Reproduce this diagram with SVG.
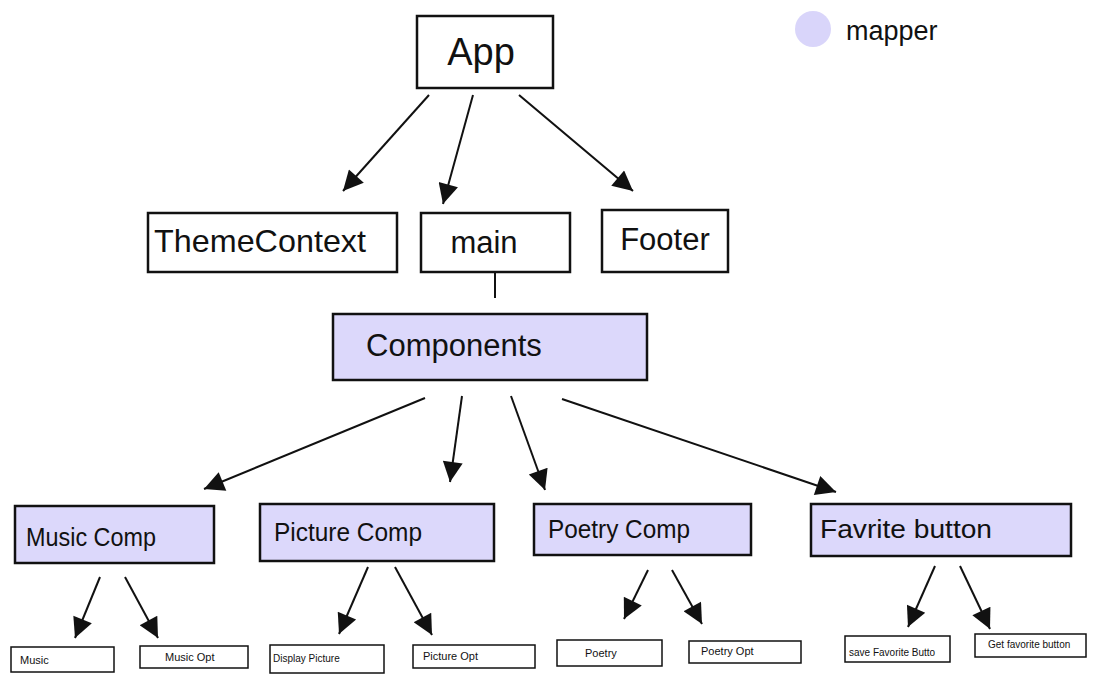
<svg xmlns="http://www.w3.org/2000/svg" width="1102" height="680" viewBox="0 0 1102 680">
<style>
.box{fill:#ffffff;stroke:#111;stroke-width:2.5}
.mbox{fill:#dcd8fb;stroke:#111;stroke-width:2.5}
.leaf{fill:#ffffff;stroke:#111;stroke-width:1.5}
.t{font-family:"Liberation Sans",Arial,sans-serif;fill:#111}
.big{font-size:38px}
.mid{font-size:31px}
.cmp{font-size:25px}
.sm{font-size:11px}
.conn line{stroke:#111;stroke-width:2}
</style>
<defs>
<marker id="ah" viewBox="0 0 10 10" refX="10" refY="5" markerWidth="24" markerHeight="20" markerUnits="userSpaceOnUse" orient="auto">
<path d="M0,0 L10,5 L0,10 z" fill="#111"/>
</marker>
</defs>
<rect width="1102" height="680" fill="#ffffff"/>
<g id="legend">
<circle cx="813" cy="29" r="18" fill="#d9d5fa"/>
<text class="t" x="846" y="40" font-size="27">mapper</text>
</g>
<g id="connectors" class="conn">
<line x1="429" y1="95" x2="343" y2="191" marker-end="url(#ah)"/>
<line x1="473" y1="95" x2="443" y2="204" marker-end="url(#ah)"/>
<line x1="519" y1="95" x2="633" y2="191" marker-end="url(#ah)"/>
<line x1="495" y1="272" x2="495" y2="298"/>
<line x1="425" y1="398" x2="204" y2="489" marker-end="url(#ah)"/>
<line x1="462" y1="396" x2="450" y2="482" marker-end="url(#ah)"/>
<line x1="511" y1="396" x2="545" y2="490" marker-end="url(#ah)"/>
<line x1="562" y1="399" x2="836" y2="492" marker-end="url(#ah)"/>
<line x1="100" y1="577" x2="75" y2="638" marker-end="url(#ah)"/>
<line x1="125" y1="577" x2="158" y2="638" marker-end="url(#ah)"/>
<line x1="368" y1="567" x2="339" y2="634" marker-end="url(#ah)"/>
<line x1="395" y1="567" x2="432" y2="635" marker-end="url(#ah)"/>
<line x1="648" y1="570" x2="624" y2="619" marker-end="url(#ah)"/>
<line x1="672" y1="570" x2="702" y2="624" marker-end="url(#ah)"/>
<line x1="935" y1="566" x2="908" y2="627" marker-end="url(#ah)"/>
<line x1="960" y1="566" x2="990" y2="629" marker-end="url(#ah)"/>
</g>
<g id="app"><rect class="box" x="417" y="16" width="136" height="72"/><text class="t big" x="481" y="65" text-anchor="middle">App</text></g>
<g id="themecontext"><rect class="box" x="148" y="213" width="249" height="59"/><text class="t" font-size="32" x="154" y="252" textLength="212" lengthAdjust="spacingAndGlyphs">ThemeContext</text></g>
<g id="main"><rect class="box" x="421" y="213" width="149" height="59"/><text class="t mid" x="484" y="253" text-anchor="middle">main</text></g>
<g id="footer"><rect class="box" x="602" y="210" width="126" height="62"/><text class="t mid" x="665" y="250" text-anchor="middle">Footer</text></g>
<g id="components"><rect class="mbox" x="333" y="314" width="314" height="66"/><text class="t mid" x="366" y="356">Components</text></g>
<g id="musiccomp"><rect class="mbox" x="15" y="506" width="199" height="57"/><text class="t cmp" x="26" y="546" textLength="130" lengthAdjust="spacingAndGlyphs">Music Comp</text></g>
<g id="picturecomp"><rect class="mbox" x="260" y="504" width="234" height="57"/><text class="t cmp" x="274" y="541" textLength="148" lengthAdjust="spacingAndGlyphs">Picture Comp</text></g>
<g id="poetrycomp"><rect class="mbox" x="534" y="504" width="217" height="51"/><text class="t cmp" x="548" y="538" textLength="142" lengthAdjust="spacingAndGlyphs">Poetry Comp</text></g>
<g id="favritebutton"><rect class="mbox" x="811" y="504" width="260" height="52"/><text class="t cmp" x="820" y="538" textLength="172" lengthAdjust="spacingAndGlyphs">Favrite button</text></g>
<g id="music"><rect class="leaf" x="11" y="647" width="103" height="25"/><text class="t sm" x="20" y="664">Music</text></g>
<g id="musicopt"><rect class="leaf" x="140" y="646" width="108" height="22"/><text class="t sm" x="165" y="661">Music Opt</text></g>
<g id="displaypicture"><rect class="leaf" x="270" y="645" width="114" height="28"/><text class="t" font-size="10" x="273" y="662">Display Picture</text></g>
<g id="pictureopt"><rect class="leaf" x="413" y="645" width="122" height="23"/><text class="t sm" x="423" y="660">Picture Opt</text></g>
<g id="poetry"><rect class="leaf" x="557" y="640" width="105" height="26"/><text class="t sm" x="585" y="657">Poetry</text></g>
<g id="poetryopt"><rect class="leaf" x="689" y="641" width="112" height="22"/><text class="t sm" x="701" y="655">Poetry Opt</text></g>
<g id="savefav"><rect class="leaf" x="845" y="636" width="105" height="26"/><text class="t" font-size="10" x="849" y="656">save Favorite Butto</text></g>
<g id="getfav"><rect class="leaf" x="975" y="634" width="111" height="23"/><text class="t" font-size="10" x="988" y="648">Get favorite button</text></g>
</svg>
